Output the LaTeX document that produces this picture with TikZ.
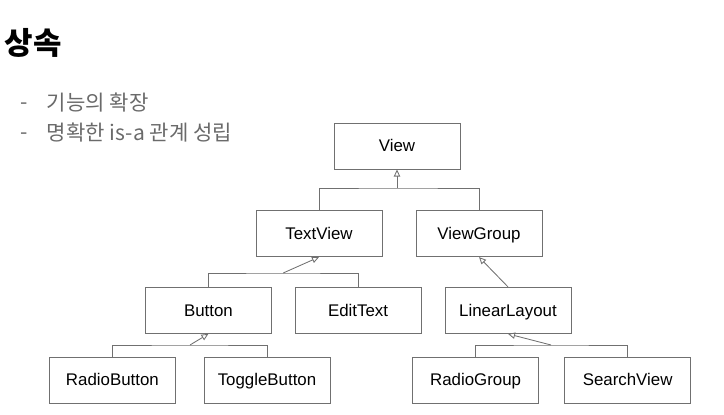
\documentclass[tikz,border=0pt]{standalone}
\usepackage{fontspec}
\setmainfont{Liberation Sans}
\newfontfamily\kofont{Noto Sans CJK KR}
\usetikzlibrary{arrows.meta}
\definecolor{boxline}{HTML}{707070}
\definecolor{bullettext}{HTML}{6A6A6A}
\tikzstyle{cls} = [rectangle, draw=boxline, line width=0.7pt, minimum width=3.15cm, minimum height=1.15cm, text height=1.6ex, text depth=0ex, text centered, font=\fontsize{12}{14}\selectfont]
\tikzstyle{bullet} = [anchor=west, text=bullettext, font=\kofont\fontsize{15}{17}\selectfont]
\tikzstyle{link} = [draw=boxline, line width=0.6pt]
\tikzstyle{arrow} = [link, -{Triangle[open, length=5pt, width=4.5pt]}]

\begin{document}
\begin{tikzpicture}
                \useasboundingbox (0,0) rectangle (18.1,-10.375);
                \node [anchor=west, font=\kofont\bfseries\fontsize{22}{26}\selectfont] at (0.0,-1.075) (title) {상속};
                \node [bullet] at (0.4,-2.65) (dash1) {-};
                \node [bullet] at (1.05,-2.575) (item1) {기능의 확장};
                \node [bullet] at (0.4,-3.4) (dash2) {-};
                \node [bullet] at (1.05,-3.325) (item2) {명확한 is-a 관계 성립};

                \node [cls] at (9.925,-3.65) (view) {View};
                \node [cls] at (7.975,-5.84) (textview) {TextView};
                \node [cls] at (11.975,-5.84) (viewgroup) {ViewGroup};
                \node [cls] at (5.21,-7.76) (button) {Button};
                \node [cls] at (8.95,-7.76) (edittext) {EditText};
                \node [cls] at (12.7,-7.76) (linearlayout) {LinearLayout};
                \node [cls] at (2.81,-9.5) (radiobutton) {RadioButton};
                \node [cls] at (6.675,-9.5) (togglebutton) {ToggleButton};
                \node [cls] at (11.89,-9.5) (radiogroup) {RadioGroup};
                \node [cls] at (15.69,-9.5) (searchview) {SearchView};

                \coordinate (bar0) at (9.925,-4.7);
                \coordinate (bar1) at (7.08,-6.825);
                \coordinate (bar2) at (4.75,-8.625);
                \coordinate (bar3) at (13.775,-8.625);

                \draw [link] (textview.north) |- (bar0) -| (viewgroup.north);
                \draw [arrow] (bar0) -- (view.south);
                \draw [link] (button.north) |- (bar1) -| (edittext.north);
                \draw [arrow] (bar1) -- (textview.south);
                \draw [arrow] (linearlayout.north) -- (viewgroup.south);
                \draw [link] (radiobutton.north) |- (bar2) -| (togglebutton.north);
                \draw [arrow] (bar2) -- (button.south);
                \draw [link] (radiogroup.north) |- (bar3) -| (searchview.north);
                \draw [arrow] (bar3) -- (linearlayout.south);
\end{tikzpicture}
\end{document}
